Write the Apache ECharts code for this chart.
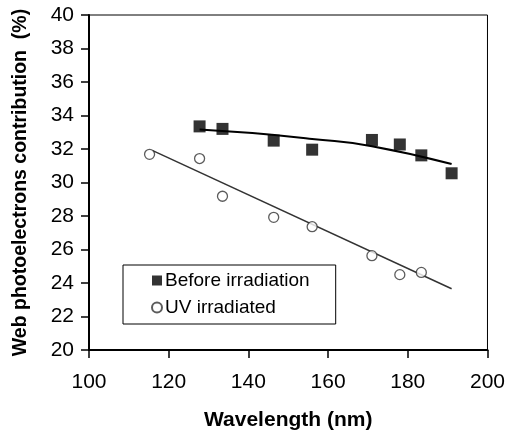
<!DOCTYPE html>
<html>
<head>
<meta charset="utf-8">
<script src="https://cdn.jsdelivr.net/npm/echarts@6/dist/echarts.min.js"></script>
<style>html,body{margin:0;padding:0;background:#fff}#c{width:508px;height:436px}</style>
</head>
<body>
<div id="c"></div>
<script>
// Data
var beforeX = [127.75, 133.5, 146.35, 156.0, 171.0, 178.0, 183.4, 191.0];
var beforeY = [33.35, 33.2, 32.5, 31.96, 32.54, 32.27, 31.62, 30.55];
var uvX = [115.2, 127.75, 133.5, 146.35, 156.0, 171.0, 178.0, 183.4];
var uvY = [31.68, 31.43, 29.18, 27.92, 27.36, 25.63, 24.5, 24.63];
// Trend lines
var beforeTrendX = [127.75, 141.0, 156.0, 171.0, 191.0];
var beforeTrendY = [33.17, 32.95, 32.6, 32.17, 31.1];
var uvTrendX = [116.0, 191.0];
var uvTrendY = [31.9, 23.66];
var xTicks = [100, 120, 140, 160, 180, 200];
var yTicks = [20, 22, 24, 26, 28, 30, 32, 34, 36, 38, 40];
var names = ['Before irradiation', 'UV irradiated'];

function pairs(xs, ys) { return xs.map(function (x, i) { return [x, ys[i]]; }); }

var chart = echarts.init(document.getElementById('c'), null, { renderer: 'canvas' });
var FONT = 'Liberation Sans, Arial, sans-serif';
chart.setOption({
  animation: false,
  backgroundColor: '#fff',
  grid: { left: 89, right: 19, top: 15, bottom: 80, show: true, borderColor: '#000', borderWidth: 1 },
  xAxis: {
    type: 'value', min: xTicks[0], max: xTicks[xTicks.length - 1], interval: 20,
    name: 'Wavelength (nm)', nameLocation: 'middle', nameGap: 60,
    nameTextStyle: { fontFamily: FONT, fontWeight: 'bold', fontSize: 21, color: '#000' },
    axisLine: { show: true, lineStyle: { color: '#000', width: 2 } },
    axisTick: { show: true, inside: false, length: 8, lineStyle: { color: '#000', width: 1.5 } },
    axisLabel: { fontFamily: FONT, fontSize: 21, color: '#000', margin: 22 },
    splitLine: { show: false }
  },
  yAxis: {
    type: 'value', min: yTicks[0], max: yTicks[yTicks.length - 1], interval: 2,
    name: 'Web photoelectrons contribution  (%)', nameLocation: 'middle', nameGap: 58,
    nameTextStyle: { fontFamily: FONT, fontWeight: 'bold', fontSize: 19.5, color: '#000' },
    axisLine: { show: true, lineStyle: { color: '#000', width: 2 } },
    axisTick: { show: true, inside: false, length: 8, lineStyle: { color: '#000', width: 1.5 } },
    axisLabel: { fontFamily: FONT, fontSize: 21, color: '#000', margin: 15 },
    splitLine: { show: false }
  },
  legend: {
    data: [{ name: names[0], icon: 'rect' }, { name: names[1], icon: 'circle' }],
    orient: 'vertical', left: 123, top: 265,
    borderColor: '#000', borderWidth: 1, borderRadius: 0,
    padding: [6, 26, 7, 28], itemGap: 8, itemWidth: 10, itemHeight: 10,
    textStyle: { fontFamily: FONT, fontSize: 19, color: '#000', padding: [0, 0, 0, -2] }
  },
  series: [
    {
      name: 'beforeTrend', type: 'line', data: pairs(beforeTrendX, beforeTrendY), smooth: true,
      showSymbol: false, lineStyle: { color: '#000', width: 2 }, silent: true, z: 1
    },
    {
      name: 'uvTrend', type: 'line', data: pairs(uvTrendX, uvTrendY),
      showSymbol: false, lineStyle: { color: '#333', width: 1.5 }, silent: true, z: 1
    },
    {
      name: names[0], type: 'scatter', data: pairs(beforeX, beforeY),
      symbol: 'rect', symbolSize: 12, itemStyle: { color: '#000' }, z: 3
    },
    {
      name: names[1], type: 'scatter', data: pairs(uvX, uvY),
      symbol: 'circle', symbolSize: 10,
      itemStyle: { color: '#fff', borderColor: '#333', borderWidth: 1.3 }, z: 3
    }
  ]
});
</script>
</body>
</html>
